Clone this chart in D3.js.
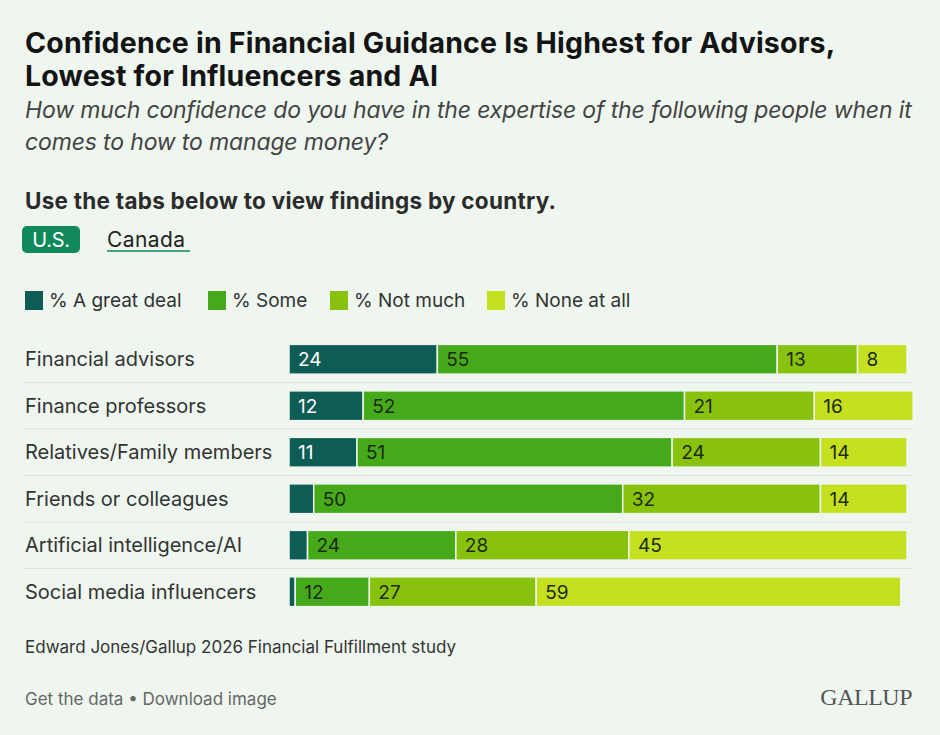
<!DOCTYPE html>
<html>
<head>
<meta charset="utf-8">
<script src="https://cdn.jsdelivr.net/npm/d3@7"></script>
<style>
  body { margin: 0; background: #eef6ef; }
  svg { display: block; font-family: Inter, "Noto Sans", sans-serif; }
</style>
</head>
<body>
<div id="chart"></div>
<script>
const categories = [
  "Financial advisors",
  "Finance professors",
  "Relatives/Family members",
  "Friends or colleagues",
  "Artificial intelligence/AI",
  "Social media influencers"
];
const seriesNames = ["% A great deal", "% Some", "% Not much", "% None at all"];
const greatDeal = [24, 12, 11, 4, 3, 1];
const some = [55, 52, 51, 50, 24, 12];
const notMuch = [13, 21, 24, 32, 28, 27];
const noneAtAll = [8, 16, 14, 14, 45, 59];
const colors = ["#0d5c55", "#46a91a", "#89c20c", "#c4e01e"];

function init() {
  const width = 940, height = 735;
  const svg = d3.select("#chart").append("svg")
      .attr("width", width)
      .attr("height", height);

  svg.append("rect").attr("width", width).attr("height", height).attr("fill", "#eef6ef");

  // title + subtitle
  const title = svg.append("text")
      .attr("font-size", 28.5).attr("font-weight", 700)
      .attr("fill", "#141414").attr("letter-spacing", 0.2);
  title.append("tspan").attr("x", 25).attr("y", 53).text("Confidence in Financial Guidance Is Highest for Advisors,");
  title.append("tspan").attr("x", 25).attr("y", 86).text("Lowest for Influencers and AI");

  const sub = svg.append("text")
      .attr("font-size", 23).attr("font-style", "italic")
      .attr("fill", "#444").attr("letter-spacing", -0.15);
  sub.append("tspan").attr("x", 25).attr("y", 118).text("How much confidence do you have in the expertise of the following people when it");
  sub.append("tspan").attr("x", 25).attr("y", 150).text("comes to how to manage money?");

  svg.append("text")
      .attr("x", 25).attr("y", 209)
      .attr("font-size", 22.5).attr("font-weight", 700)
      .attr("fill", "#2b2b2b").attr("letter-spacing", 0.25)
      .text("Use the tabs below to view findings by country.");

  // tabs
  svg.append("rect")
      .attr("x", 22).attr("y", 226).attr("width", 58).attr("height", 27)
      .attr("rx", 5).attr("fill", "#108a5c");
  svg.append("text")
      .attr("x", 51).attr("y", 247).attr("text-anchor", "middle")
      .attr("font-size", 20).attr("fill", "#fff").attr("letter-spacing", -0.3)
      .text("U.S.");
  svg.append("text")
      .attr("x", 107).attr("y", 247)
      .attr("font-size", 21).attr("fill", "#222").attr("letter-spacing", 0.4)
      .text("Canada");
  svg.append("line")
      .attr("x1", 107).attr("x2", 190).attr("y1", 251).attr("y2", 251)
      .attr("stroke", "#108a5c").attr("stroke-width", 1.5);

  // legend
  const legendX = [25, 208, 330, 487];
  const legend = svg.selectAll(".legend")
      .data(seriesNames)
      .enter().append("g")
      .attr("class", "legend")
      .attr("transform", (d, i) => "translate(" + legendX[i] + ",291)");
  legend.append("rect")
      .attr("width", 18).attr("height", 19)
      .attr("fill", (d, i) => colors[i]);
  legend.append("text")
      .attr("x", 24).attr("y", 16)
      .attr("font-size", 19).attr("fill", "#333")
      .text(d => d);

  // bars
  const x = d3.scaleLinear().domain([0, 100]).range([289, 907]);
  const y = d3.scaleBand()
      .domain(categories)
      .range([336, 615])
      .paddingInner(0.36)
      .paddingOuter(0.18);

  const table = categories.map((c, i) => ({
    name: c,
    values: [greatDeal[i], some[i], notMuch[i], noneAtAll[i]]
  }));
  const stack = d3.stack().keys([0, 1, 2, 3]).value((d, k) => d.values[k]);
  const series = stack(table);

  // dotted separators
  const step = y.step();
  svg.selectAll(".sep")
      .data(categories.slice(0, -1))
      .enter().append("line")
      .attr("x1", 25).attr("x2", 912)
      .attr("y1", d => y(d) + y.bandwidth() + (step - y.bandwidth()) / 2)
      .attr("y2", d => y(d) + y.bandwidth() + (step - y.bandwidth()) / 2)
      .attr("stroke", "#c9d3cb").attr("stroke-dasharray", "1,1");

  svg.selectAll(".cat")
      .data(categories)
      .enter().append("text")
      .attr("x", 25)
      .attr("y", d => y(d) + y.bandwidth() / 2 + 7)
      .attr("font-size", 20).attr("fill", "#333")
      .text(d => d);

  const groups = svg.selectAll(".series")
      .data(series)
      .enter().append("g")
      .attr("fill", (d, i) => colors[i]);

  groups.selectAll("rect")
      .data(d => d)
      .enter().append("rect")
      .attr("x", d => x(d[0]))
      .attr("y", d => y(d.data.name))
      .attr("width", d => x(d[1]) - x(d[0]))
      .attr("height", y.bandwidth())
      .attr("stroke", "#eef6ef").attr("stroke-width", 1.5);

  groups.selectAll("text")
      .data(d => d.map(p => ({ p: p, k: d.key })))
      .enter().append("text")
      .filter(d => d.p[1] - d.p[0] >= 8)
      .attr("x", d => x(d.p[0]) + 9)
      .attr("y", d => y(d.p.data.name) + y.bandwidth() / 2 + 7)
      .attr("font-size", 19)
      .attr("fill", d => d.k === 0 ? "#fff" : "#1d2a12")
      .text(d => d.p[1] - d.p[0]);

  // source + footer
  svg.append("text")
      .attr("x", 25).attr("y", 653)
      .attr("font-size", 17).attr("fill", "#333")
      .text("Edward Jones/Gallup 2026 Financial Fulfillment study");
  svg.append("text")
      .attr("x", 25).attr("y", 705)
      .attr("font-size", 17).attr("fill", "#666")
      .text("Get the data \u2022 Download image");
  svg.append("text")
      .attr("x", 912).attr("y", 705).attr("text-anchor", "end")
      .attr("font-family", "'Liberation Serif', 'DejaVu Serif', serif")
      .attr("font-size", 24).attr("fill", "#555").attr("letter-spacing", -0.5)
      .text("GALLUP");
}

window.onload = init;
</script>
</body>
</html>
